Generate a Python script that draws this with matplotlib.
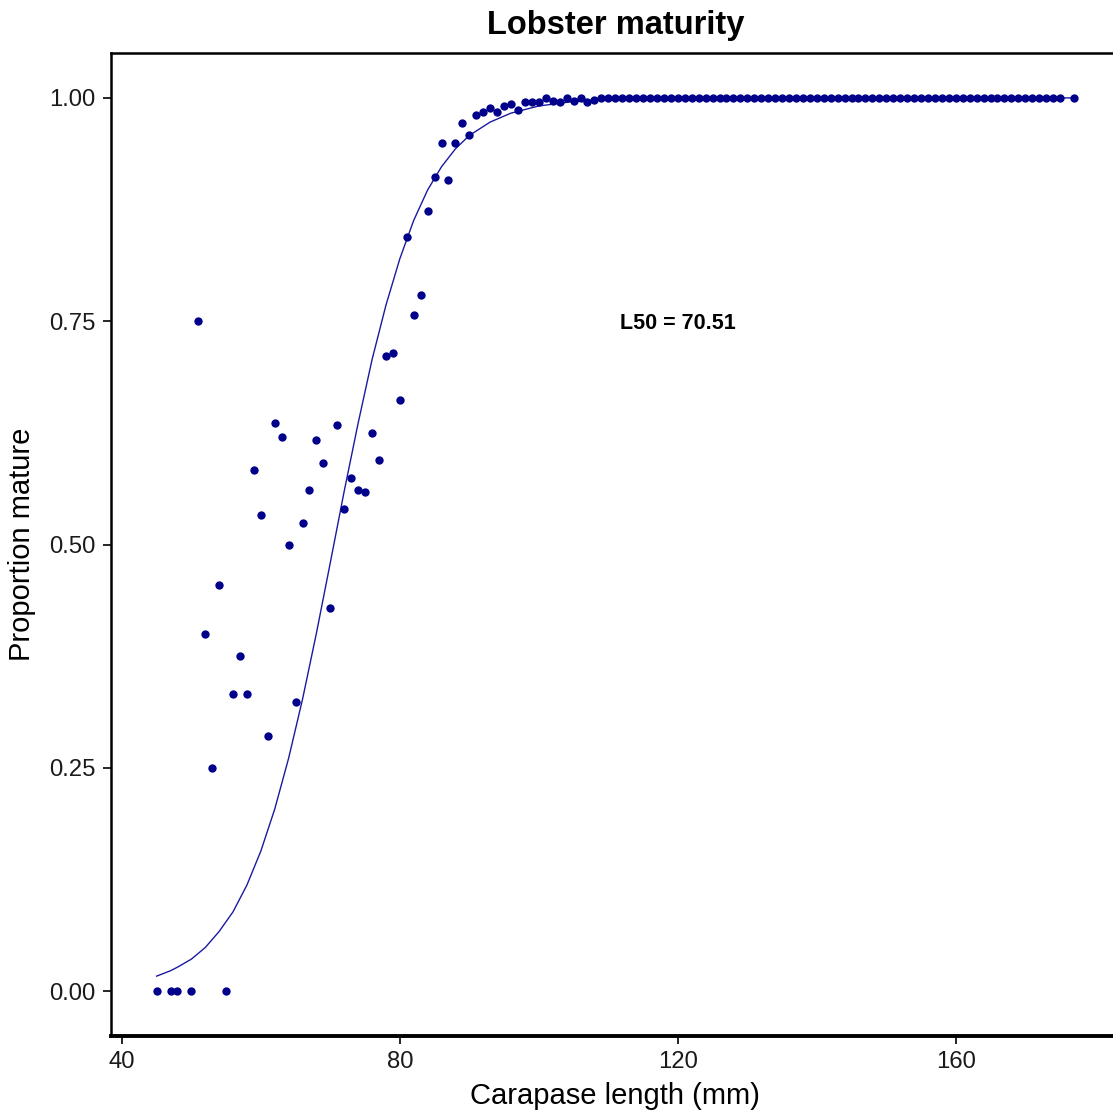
#!/usr/bin/env python3
"""Maturity ogive: proportion of mature lobsters by carapace length."""

import matplotlib
matplotlib.use("Agg")
import matplotlib.pyplot as plt

plt.rcParams["font.family"] = ["Liberation Sans", "DejaVu Sans"]

# observed proportion mature per 1 mm length class
lengths_low = [45, 47, 48, 50, 51, 52, 53, 54, 55, 56, 57, 58, 59, 60, 61, 62, 63,
               64, 65, 66, 67, 68, 69, 70, 71, 72, 73, 74, 75, 76, 77, 78, 79, 80,
               81, 82, 83, 84, 85, 86, 87, 88, 89, 90, 91, 92, 93, 94, 95, 96, 97,
               98, 99, 100, 101, 102, 103, 104, 105, 106, 107, 108]
prop_low = [0.0, 0.0, 0.0, 0.0, 0.75, 0.40, 0.25, 0.455, 0.0, 0.333, 0.375, 0.333,
            0.583, 0.533, 0.286, 0.636, 0.620, 0.500, 0.324, 0.524, 0.561, 0.617,
            0.591, 0.429, 0.634, 0.540, 0.575, 0.561, 0.559, 0.625, 0.595, 0.711,
            0.714, 0.662, 0.844, 0.757, 0.779, 0.873, 0.911, 0.950, 0.908, 0.950,
            0.972, 0.958, 0.981, 0.984, 0.989, 0.984, 0.991, 0.993, 0.987, 0.996,
            0.996, 0.995, 1.0, 0.997, 0.996, 1.0, 0.997, 1.0, 0.996, 0.998]
# large animals are all mature
lengths_high = list(range(109, 176)) + [177]
prop_high = [1.0] * len(lengths_high)

lengths = lengths_low + lengths_high
prop_mature = prop_low + prop_high

# fitted logistic ogive
fit_length = [45, 47, 48, 50, 52, 54, 56, 58, 60, 62, 64, 66, 68, 70, 72, 74, 76,
              78, 80, 82, 84, 86, 88, 90, 93, 96, 100, 105, 110, 120, 140, 177]
fit_prop = [0.017, 0.023, 0.027, 0.036, 0.049, 0.067, 0.089, 0.119, 0.157, 0.204,
            0.261, 0.327, 0.401, 0.480, 0.560, 0.636, 0.707, 0.768, 0.820, 0.863,
            0.897, 0.923, 0.943, 0.958, 0.973, 0.983, 0.991, 0.996, 0.998, 1.0,
            1.0, 1.0]

L50 = 70.51

NAVY = "#00008B"

fig = plt.figure(figsize=(11.13, 11.19), dpi=100)
ax = fig.add_axes([0.0995, 0.0742, 0.9066, 0.8782])

ax.plot(fit_length, fit_prop, color="#1a1aa0", linewidth=1.0, zorder=2)
ax.scatter(lengths, prop_mature, s=36, color=NAVY, linewidths=0, zorder=3)

ax.text(120, 0.748, f"L50 = {L50:.2f}", ha="center", va="center",
        fontsize=15.5, fontweight="bold", color="black")

ax.set_xlim(38.4, 183.6)
ax.set_ylim(-0.05, 1.05)
ax.set_xticks([40, 80, 120, 160])
ax.set_yticks([0.0, 0.25, 0.5, 0.75, 1.0])
ax.set_yticklabels(["0.00", "0.25", "0.50", "0.75", "1.00"])

ax.tick_params(direction="out", length=6, width=1.2, labelsize=17.2,
               labelcolor="#1a1a1a", pad=5)

ax.spines["right"].set_visible(False)
ax.spines["left"].set_linewidth(1.8)
ax.spines["top"].set_linewidth(1.8)
ax.spines["bottom"].set_linewidth(2.8)

ax.set_xlabel("Carapase length (mm)", fontsize=21, labelpad=6)
ax.set_ylabel("Proportion mature", fontsize=21, labelpad=9)
ax.set_title("Lobster maturity", fontsize=23.5, fontweight="bold", pad=14)

fig.savefig("out.png", dpi=100)
plt.close(fig)
